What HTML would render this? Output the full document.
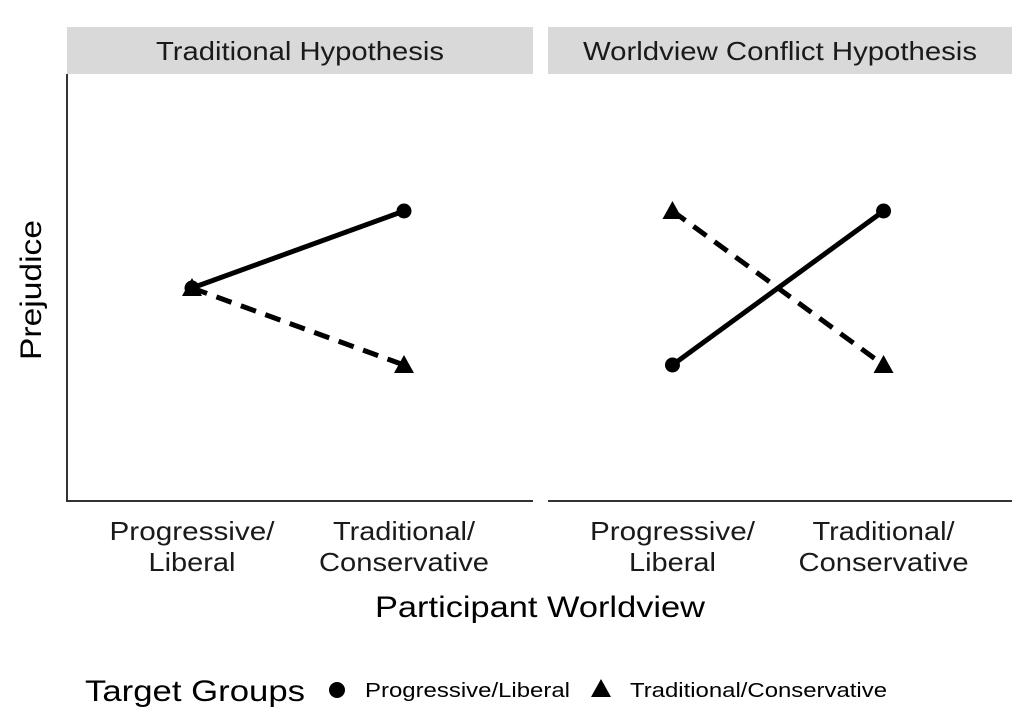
<!DOCTYPE html>
<html><head><meta charset="utf-8"><style>
body{margin:0;background:#fff;font-family:"Liberation Sans",sans-serif}
</style></head><body>
<svg width="1024" height="722" xmlns="http://www.w3.org/2000/svg" font-family="Liberation Sans, sans-serif">
<g id="plot"></g>
</svg>
<script>
const panels=["Traditional Hypothesis","Worldview Conflict Hypothesis"];
const categories=["Progressive/Liberal","Traditional/Conservative"];
const progValues=[[0.5,0.75],[0.25,0.75]];
const tradValues=[[0.5,0.25],[0.75,0.25]];
const NS="http://www.w3.org/2000/svg";
const g=document.getElementById('plot');
function mk(t,a,p){const e=document.createElementNS(NS,t);for(const k in a)e.setAttribute(k,a[k]);(p||g).appendChild(e);return e;}
const panelX=[[67,533],[548,1012]];
const titleW=[288,394];
const tickW=[[165,87],[142,170]];
const yTop=74,yBot=501;
function ys(v){return 365+(0.25-v)*(365-211)/0.5;}
panels.forEach((title,i)=>{
  const [x0,x1]=panelX[i];
  const xs=j=>x0+(j===0?125:337)*(x1-x0)/466;
  const s=mk('rect',{x:x0,y:27,width:x1-x0,height:47,fill:'#d9d9d9'});
  
  
  const t=mk('text',{x:(x0+x1)/2,y:60,'text-anchor':'middle','font-size':26,fill:'#1a1a1a',textLength:titleW[i],lengthAdjust:'spacingAndGlyphs'});t.textContent=title;
  
  
  const ax=mk('line',{x1:x0,x2:x1,y1:yBot,y2:yBot,stroke:'#333','stroke-width':2});
  
  
  if(i===0){const ay=mk('line',{x1:x0,x2:x0,y1:yTop,y2:yBot+1,stroke:'#333','stroke-width':2});
    
    }
  categories.forEach((c,j)=>{
    const parts=c.split('/');
    const tl=mk('text',{'text-anchor':'middle','font-size':26,fill:'#1a1a1a'});
    
    
    const a=mk('tspan',{x:xs(j),y:540,textLength:tickW[j][0],lengthAdjust:'spacingAndGlyphs'},tl);a.textContent=parts[0]+'/';
    const b=mk('tspan',{x:xs(j),y:571,textLength:tickW[j][1],lengthAdjust:'spacingAndGlyphs'},tl);b.textContent=parts[1];
  });
  const lp=mk('line',{x1:xs(0),y1:ys(progValues[i][0]),x2:xs(1),y2:ys(progValues[i][1]),stroke:'#000','stroke-width':5});
  
  
  const lt=mk('line',{x1:xs(0),y1:ys(tradValues[i][0]),x2:xs(1),y2:ys(tradValues[i][1]),stroke:'#000','stroke-width':5,'stroke-dasharray':'16,10'});
  
  
  for(let j=0;j<2;j++){
    const c=mk('circle',{cx:xs(j),cy:ys(progValues[i][j]),r:7.5,fill:'#000'});
    
    
    const x=xs(j),y=ys(tradValues[i][j]);
    const p=mk('polygon',{points:`${x},${y-10} ${x+10},${y+8} ${x-10},${y+8}`,fill:'#000'});
    
    
  }
});
const yt=mk('text',{x:0,y:0,transform:'translate(41,290) rotate(-90)','text-anchor':'middle','font-size':30,fill:'#000',textLength:140,lengthAdjust:'spacingAndGlyphs'});yt.textContent='Prejudice';


const xt=mk('text',{x:540,y:617,'text-anchor':'middle','font-size':30,fill:'#000',textLength:330,lengthAdjust:'spacingAndGlyphs'});xt.textContent='Participant Worldview';


const lg=mk('text',{x:85,y:701,'font-size':30,fill:'#000',textLength:220,lengthAdjust:'spacingAndGlyphs'});lg.textContent='Target Groups';


const lc=mk('circle',{cx:337,cy:690,r:8,fill:'#000'});


const l1=mk('text',{x:365,y:697,'font-size':20,fill:'#000',textLength:205,lengthAdjust:'spacingAndGlyphs'});l1.textContent='Progressive/Liberal';


const lt2=mk('polygon',{points:'601,679 611,697 591,697',fill:'#000'});


const l2=mk('text',{x:630,y:697,'font-size':20,fill:'#000',textLength:257,lengthAdjust:'spacingAndGlyphs'});l2.textContent='Traditional/Conservative';


</script>
</body></html>
